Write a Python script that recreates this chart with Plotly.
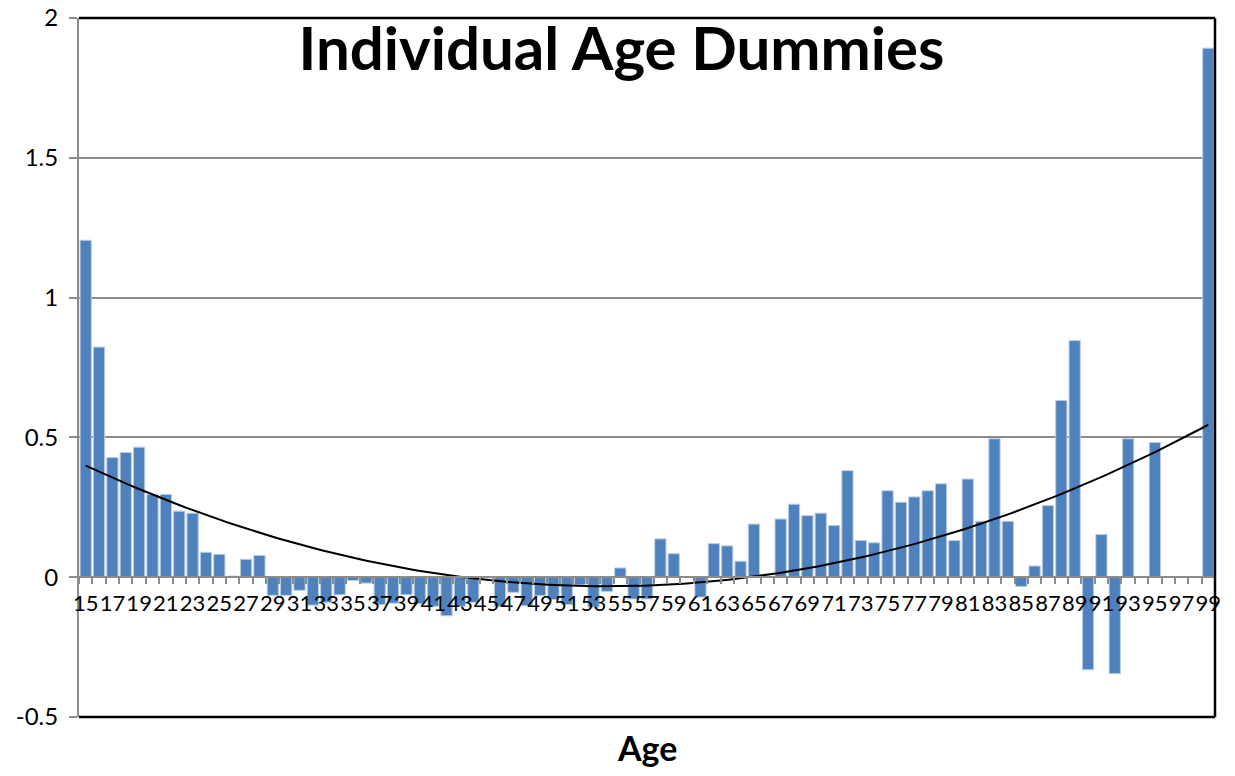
import numpy as np
import plotly.graph_objects as go

ages = list(range(15, 100))
coef = [
    1.205, 0.823, 0.428, 0.446, 0.465, 0.296, 0.296, 0.236, 0.229, 0.089,   # 15-24
    0.082, 0.004, 0.064, 0.078, -0.065, -0.065, -0.047, -0.100, -0.090, -0.063,  # 25-34
    -0.012, -0.021, -0.098, -0.093, -0.063, -0.095, -0.104, -0.138, -0.104, -0.090,  # 35-44
    0.0, -0.105, -0.054, -0.102, -0.066, -0.080, -0.098, -0.027, -0.107, -0.051,  # 45-54
    0.033, -0.078, -0.078, 0.137, 0.084, 0.0, -0.071, 0.120, 0.112, 0.057,  # 55-64
    0.190, 0.0, 0.208, 0.261, 0.220, 0.229, 0.185, 0.381, 0.131, 0.123,  # 65-74
    0.309, 0.268, 0.287, 0.309, 0.334, 0.131, 0.351, 0.200, 0.495, 0.200,  # 75-84
    -0.033, 0.040, 0.256, 0.632, 0.846, -0.331, 0.153, -0.345, 0.495, 0.0,  # 85-94
    0.482, 0.0, 0.0, 0.0, 1.892,  # 95-99
]
tick_ages = list(range(15, 100, 2))
y_ticks = [-0.5, 0, 0.5, 1, 1.5, 2]
y_ticktext = ["-0.5", "0", "0.5", "1", "1.5", "2"]
title_text = "Individual Age Dummies"
x_title = "Age"

# polynomial (order 2) trendline fitted on the data
xa = np.array(ages, dtype=float)
ya = np.array(coef, dtype=float)
p = np.polyfit(xa, ya, 2)
trend_x = np.linspace(ages[0], ages[-1], 200)
trend_y = np.polyval(p, trend_x)

W, H = 1235, 776
ml, mr, mt, mb = 79, 20, 18, 59
plot_h = H - mt - mb
yr = [-0.5, 2]
zero_frac = (0 - yr[0]) / (yr[1] - yr[0])

fig = go.Figure()
fig.add_trace(go.Bar(
    x=ages, y=coef,
    marker=dict(color="#4F81BD", line=dict(color="#B9CDE5", width=1)),
    showlegend=False,
))
fig.add_trace(go.Scatter(
    x=trend_x, y=trend_y, mode="lines",
    line=dict(color="black", width=2), showlegend=False,
))

font_family = "Lato, 'Open Sans', sans-serif"
fig.update_layout(
    width=W, height=H,
    margin=dict(l=ml, r=mr, t=mt, b=mb, autoexpand=False),
    paper_bgcolor="white", plot_bgcolor="white",
    bargap=0.16,
    font=dict(family=font_family, color="black", size=22),
    title=dict(text="<b>" + title_text + "</b>", x=621.5 / W, xanchor="center",
               y=1 - 49 / H, yanchor="middle", yref="container", automargin=False,
               font=dict(family=font_family, size=60, color="black")),
    xaxis=dict(
        range=[ages[0] - 0.5, ages[-1] + 0.5],
        anchor="free", position=zero_frac, automargin=False,
        tickmode="array", tickvals=tick_ages, ticktext=[str(a) for a in tick_ages],
        tickangle=0, ticklabeloverflow="allow", ticklabelstandoff=6,
        ticks="", showgrid=False, zeroline=False,
        showline=True, linecolor="#8C8C8C", linewidth=2,
        tickfont=dict(size=22, family=font_family),
        minor=dict(tickmode="array",
                   tickvals=[a - 0.5 for a in ages] + [ages[-1] + 0.5],
                   ticks="outside", ticklen=6, tickcolor="#8C8C8C", tickwidth=1.5,
                   showgrid=False),
    ),
    yaxis=dict(
        range=yr, tickmode="array", tickvals=y_ticks, ticktext=y_ticktext,
        automargin=False, ticklabeloverflow="allow",
        showgrid=True, gridcolor="#8C8C8C", gridwidth=1.5,
        zeroline=False, showline=True, linecolor="#8C8C8C", linewidth=2,
        ticks="outside", ticklen=8, tickcolor="#8C8C8C", tickwidth=1.5,
        ticklabelstandoff=6,
        tickfont=dict(size=24, family=font_family),
    ),
)

# plot-area frame (top, right, bottom) in black
for x0, y0, x1, y1 in [(0, 1, 1, 1), (1, 0, 1, 1), (0, 0, 1, 0)]:
    fig.add_shape(type="line", xref="paper", yref="paper",
                  x0=x0, y0=y0, x1=x1, y1=y1,
                  line=dict(color="black", width=2.5), layer="above")

fig.add_annotation(text="<b>" + x_title + "</b>", xref="paper", yref="paper",
                   x=0.5, y=-(747 - (H - mb)) / plot_h, yanchor="middle",
                   showarrow=False, font=dict(family=font_family, size=34, color="black"))

# remove the default 8px page margin so the figure fills the window exactly
fig.write_html("out.html",
               config={"displayModeBar": False},
               post_script="document.body.style.margin='0';document.body.style.overflow='hidden';")
